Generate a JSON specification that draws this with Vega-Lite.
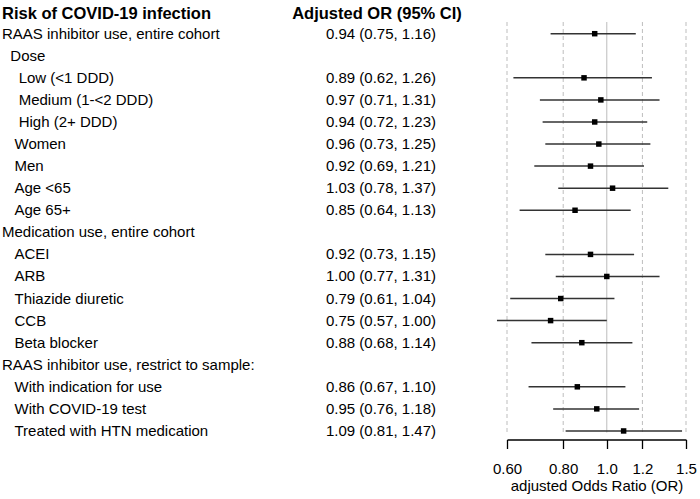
{
  "$schema": "https://vega.github.io/schema/vega-lite/v6.json",
  "padding": {"left": 2, "top": 5, "right": 3, "bottom": 5},
  "background": "white",
  "config": {
    "view": {"stroke": null},
    "font": "Liberation Sans",
    "text": {"font": "Liberation Sans", "color": "black"}
  },
  "datasets": {
    "rows": [
      {"row": 0, "label": "Risk of COVID-19 infection", "or_text": "Adjusted OR (95% CI)"},
      {"row": 1, "label": "RAAS inhibitor use, entire cohort", "or": 0.94, "lo": 0.75, "hi": 1.16, "or_text": "0.94 (0.75, 1.16)"},
      {"row": 2, "label": "\u200b\u00a0\u00a0Dose"},
      {"row": 3, "label": "\u200b\u00a0\u00a0\u00a0\u00a0Low (<1 DDD)", "or": 0.89, "lo": 0.62, "hi": 1.26, "or_text": "0.89 (0.62, 1.26)"},
      {"row": 4, "label": "\u200b\u00a0\u00a0\u00a0\u00a0Medium (1-<2 DDD)", "or": 0.97, "lo": 0.71, "hi": 1.31, "or_text": "0.97 (0.71, 1.31)"},
      {"row": 5, "label": "\u200b\u00a0\u00a0\u00a0\u00a0High (2+ DDD)", "or": 0.94, "lo": 0.72, "hi": 1.23, "or_text": "0.94 (0.72, 1.23)"},
      {"row": 6, "label": "\u200b\u00a0\u00a0\u00a0Women", "or": 0.96, "lo": 0.73, "hi": 1.25, "or_text": "0.96 (0.73, 1.25)"},
      {"row": 7, "label": "\u200b\u00a0\u00a0\u00a0Men", "or": 0.92, "lo": 0.69, "hi": 1.21, "or_text": "0.92 (0.69, 1.21)"},
      {"row": 8, "label": "\u200b\u00a0\u00a0\u00a0Age <65", "or": 1.03, "lo": 0.78, "hi": 1.37, "or_text": "1.03 (0.78, 1.37)"},
      {"row": 9, "label": "\u200b\u00a0\u00a0\u00a0Age 65+", "or": 0.85, "lo": 0.64, "hi": 1.13, "or_text": "0.85 (0.64, 1.13)"},
      {"row": 10, "label": "Medication use, entire cohort"},
      {"row": 11, "label": "\u200b\u00a0\u00a0\u00a0ACEI", "or": 0.92, "lo": 0.73, "hi": 1.15, "or_text": "0.92 (0.73, 1.15)"},
      {"row": 12, "label": "\u200b\u00a0\u00a0\u00a0ARB", "or": 1.0, "lo": 0.77, "hi": 1.31, "or_text": "1.00 (0.77, 1.31)"},
      {"row": 13, "label": "\u200b\u00a0\u00a0\u00a0Thiazide diuretic", "or": 0.79, "lo": 0.61, "hi": 1.04, "or_text": "0.79 (0.61, 1.04)"},
      {"row": 14, "label": "\u200b\u00a0\u00a0\u00a0CCB", "or": 0.75, "lo": 0.57, "hi": 1.0, "or_text": "0.75 (0.57, 1.00)"},
      {"row": 15, "label": "\u200b\u00a0\u00a0\u00a0Beta blocker", "or": 0.88, "lo": 0.68, "hi": 1.14, "or_text": "0.88 (0.68, 1.14)"},
      {"row": 16, "label": "RAAS inhibitor use, restrict to sample:"},
      {"row": 17, "label": "\u200b\u00a0\u00a0\u00a0With indication for use", "or": 0.86, "lo": 0.67, "hi": 1.10, "or_text": "0.86 (0.67, 1.10)"},
      {"row": 18, "label": "\u200b\u00a0\u00a0\u00a0With COVID-19 test", "or": 0.95, "lo": 0.76, "hi": 1.18, "or_text": "0.95 (0.76, 1.18)"},
      {"row": 19, "label": "\u200b\u00a0\u00a0\u00a0Treated with HTN medication", "or": 1.09, "lo": 0.81, "hi": 1.47, "or_text": "1.09 (0.81, 1.47)"}
    ]
  },
  "bounds": "flush",
  "spacing": 126,
  "hconcat": [
    {
      "width": 379,
      "height": 410.5,
      "data": {"name": "rows"},
      "transform": [
        {"fold": ["label", "or_text"], "as": ["column", "text"]},
        {"filter": "isValid(datum.text)"}
      ],
      "encoding": {
        "x": {"field": "column", "type": "nominal", "scale": {"type": "point", "padding": 0}, "axis": null},
        "y": {"field": "row", "type": "quantitative", "scale": {"domain": [0.47, 19.07], "reverse": true, "zero": false, "nice": false}, "axis": null},
        "text": {"field": "text", "type": "nominal"}
      },
      "layer": [
        {"transform": [{"filter": "datum.row > 0 && datum.column == 'label'"}], "mark": {"type": "text", "align": "left", "baseline": "middle", "fontSize": 15, "color": "black"}},
        {"transform": [{"filter": "datum.row > 0 && datum.column == 'or_text'"}], "mark": {"type": "text", "align": "center", "baseline": "middle", "fontSize": 15, "color": "black"}},
        {"transform": [{"filter": "datum.row == 0 && datum.column == 'label'"}], "mark": {"type": "text", "align": "left", "baseline": "middle", "fontSize": 16.5, "fontWeight": "bold", "dy": 2, "color": "black"}},
        {"transform": [{"filter": "datum.row == 0 && datum.column == 'or_text'"}], "mark": {"type": "text", "align": "center", "baseline": "middle", "fontSize": 16.5, "fontWeight": "bold", "dy": 2, "dx": -4, "color": "black"}}
      ]
    },
    {
      "width": 179,
      "height": 410.5,
      "layer": [
        {
          "data": {"values": [{"ref": 0.6}, {"ref": 0.8}, {"ref": 1.2}, {"ref": 1.5}]},
          "mark": {"type": "rule", "color": "#bdbdbd", "strokeDash": [4, 3], "strokeWidth": 1},
          "encoding": {
            "x": {"field": "ref", "type": "quantitative", "scale": {"type": "log", "domain": [0.6, 1.5], "nice": false},
              "axis": {"values": [0.6, 0.8, 1.0, 1.2, 1.5], "labelExpr": "datum.value < 0.9 ? format(datum.value, '.2f') : format(datum.value, '.1f')", "grid": false, "offset": 7, "domainColor": "black", "tickColor": "black", "domainWidth": 1.3, "tickWidth": 1.3, "tickSize": 9, "labelFontSize": 15, "labelColor": "black", "labelPadding": 13, "labelOverlap": false, "labelFlush": false, "labelBound": false, "labelFont": "Liberation Sans", "title": "adjusted Odds Ratio (OR)", "titleFont": "Liberation Sans", "titleFontSize": 15, "titleFontWeight": "normal", "titleColor": "black", "titlePadding": 2}}
          }
        },
        {
          "data": {"values": [{"ref": 1.0}]},
          "mark": {"type": "rule", "color": "#bdbdbd", "strokeWidth": 1},
          "encoding": {
            "x": {"field": "ref", "type": "quantitative", "scale": {"type": "log", "domain": [0.6, 1.5], "nice": false}}
          }
        },
        {
          "data": {"name": "rows"},
          "transform": [{"filter": "isValid(datum.or)"}],
          "mark": {"type": "rule", "color": "#333333", "strokeWidth": 1.5},
          "encoding": {
            "x": {"field": "lo", "type": "quantitative", "scale": {"type": "log", "domain": [0.6, 1.5], "nice": false}},
            "x2": {"field": "hi"},
            "y": {"field": "row", "type": "quantitative", "scale": {"domain": [0.47, 19.07], "reverse": true, "zero": false, "nice": false}, "axis": null}
          }
        },
        {
          "data": {"name": "rows"},
          "transform": [{"filter": "isValid(datum.or)"}],
          "mark": {"type": "point", "shape": "square", "filled": true, "color": "black", "opacity": 1, "size": 30},
          "encoding": {
            "x": {"field": "or", "type": "quantitative", "scale": {"type": "log", "domain": [0.6, 1.5], "nice": false}},
            "y": {"field": "row", "type": "quantitative", "scale": {"domain": [0.47, 19.07], "reverse": true, "zero": false, "nice": false}, "axis": null}
          }
        }
      ]
    }
  ]
}
